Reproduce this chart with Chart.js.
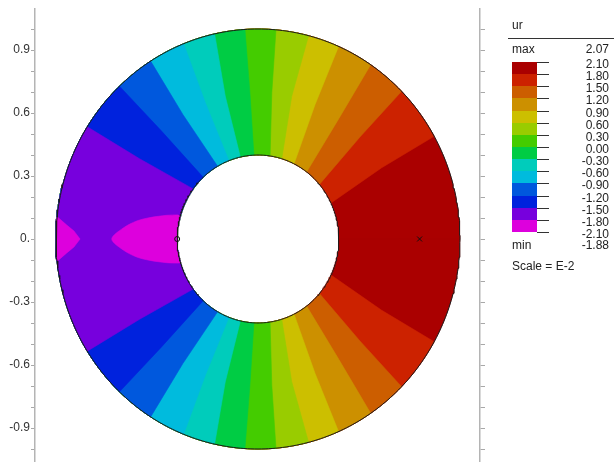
<!DOCTYPE html>
<html>
<head>
<meta charset="utf-8">
<script src="https://cdn.jsdelivr.net/npm/chart.js@4.4.0/dist/chart.umd.min.js"></script>
<style>
    html, body { margin: 0; background: #fff; overflow: hidden; font-family: "Liberation Sans", Arial, sans-serif; }
    #wrap { position: relative; width: 614px; height: 467px; }
    #legend div { position: absolute; font-size: 12px; line-height: 12px; color: #222; white-space: nowrap; }
</style>
</head>
<body>
<div id="wrap">
    <canvas id="ringChart"></canvas>
    <div id="legend"></div>
</div>
<script>
// contour levels (legend, top to bottom) and band colours
const levels = [2.10, 1.80, 1.50, 1.20, 0.90, 0.60, 0.30, 0.00, -0.30, -0.60, -0.90, -1.20, -1.50, -1.80, -2.10];
const levelLabels = ['2.10', '1.80', '1.50', '1.20', '0.90', '0.60', '0.30', '0.00', '-0.30', '-0.60', '-0.90', '-1.20', '-1.50', '-1.80', '-2.10'];
const bandColors = ['#aa0000', '#cc2200', '#cc5e00', '#cc9000', '#ccbf00', '#99cc00', '#44cc00',
                    '#00cc44', '#00ccbb', '#00bbdd', '#0058dd', '#0022dd', '#7700dd', '#dd00dd'];
const valueMax = '2.07';
const valueMin = '-1.88';

// ring
const ringInner = 0.4;
const ringOuter = 1.0;

// contour lines 1.80 ... -1.50, angle (deg) in the upper half at radius 0.4 / 0.7 / 1.0
const boundaryRadii = [0.4, 0.7, 1.0];
const boundaryInner = [25.4, 40.5, 53.0, 63.5, 72.9, 81.4, 92.9, 102.6, 111.1, 120.0, 132.7, 143.4];
const boundaryMid   = [29.0, 43.9, 55.1, 66.2, 76.2, 84.4, 93.3, 103.4, 111.9, 122.1, 132.9, 146.9];
const boundaryOuter = [29.3, 44.7, 56.1, 66.5, 75.5, 84.9, 93.7, 102.4, 111.6, 122.1, 133.3, 147.7];

// -1.80 contour: two closed pockets at the left (upper half, mirrored)
const innerLensR     = [0.411, 0.466, 0.544, 0.607, 0.669, 0.724];
const innerLensTheta = [163.8, 166.0, 169.2, 171.9, 175.5, 180.0];
const outerLensR     = [1.000, 0.949, 0.912, 0.881];
const outerLensTheta = [173.9, 176.0, 177.6, 180.0];

// markers
const markerMax = [{x: 0.8, y: 0}];
const markerMin = [{x: -0.4, y: 0}];

// axis ticks
const yTickValues = [0.9, 0.6, 0.3, 0, -0.3, -0.6, -0.9];
const yTickLabels = ['0.9', '0.6', '0.3', '0.', '-0.3', '-0.6', '-0.9'];

const fontFamily = '"Liberation Sans", Arial, sans-serif';

function toXY(r, deg) {
    let a = deg * Math.PI / 180;
    return {x: r * Math.cos(a), y: r * Math.sin(a)};
}

function arc(r, from, to) {
    let pts = [];
    let n = Math.max(2, Math.ceil(Math.abs(to - from)));
    for (let i = 0; i <= n; i++) {
        pts.push(toXY(r, from + (to - from) * i / n));
    }
    return pts;
}

// everything on the far side of a contour line (towards the left), both halves
function regionBeyond(thetas) {
    let pts = [];
    for (let i = 0; i < boundaryRadii.length; i++) pts.push(toXY(boundaryRadii[i], thetas[i]));
    let first = thetas[0];
    let last = thetas[thetas.length - 1];
    pts = pts.concat(arc(ringOuter, last, 360 - last));
    for (let i = boundaryRadii.length - 1; i >= 0; i--) pts.push(toXY(boundaryRadii[i], 360 - thetas[i]));
    pts = pts.concat(arc(ringInner, 360 - first, first));
    return pts;
}

function lens(rs, ths, ringR) {
    let pts = [];
    for (let i = 0; i < rs.length; i++) pts.push(toXY(rs[i], ths[i]));
    for (let i = rs.length - 2; i >= 0; i--) pts.push(toXY(rs[i], 360 - ths[i]));
    pts = pts.concat(arc(ringR, 360 - ths[0], ths[0]));
    return pts;
}

function fillSet(points, color) {
    return {
        data: points,
        backgroundColor: color,
        borderColor: color,
        borderWidth: 0.6,
        fill: 'shape',
        pointRadius: 0,
        tension: 0
    };
}

document.addEventListener('DOMContentLoaded', function() {
    // bottom to top
    let sets = [];
    sets.push(fillSet(regionBeyond([0, 0, 0]), bandColors[0]));
    for (let k = 0; k < boundaryInner.length; k++) {
        sets.push(fillSet(regionBeyond([boundaryInner[k], boundaryMid[k], boundaryOuter[k]]), bandColors[k + 1]));
    }
    let lensIn = fillSet(lens(innerLensR, innerLensTheta, ringInner), bandColors[13]);
    lensIn.tension = 0.3;
    sets.push(lensIn);
    sets.push(fillSet(lens(outerLensR, outerLensTheta, ringOuter), bandColors[13]));

    sets.push({data: arc(ringOuter, 0, 360), borderColor: '#1a1a1a', borderWidth: 1, fill: false, pointRadius: 0, tension: 0});
    sets.push({data: arc(ringInner, 0, 360), borderColor: '#1a1a1a', borderWidth: 1, fill: false, pointRadius: 0, tension: 0});
    sets.push({data: markerMax, showLine: false, pointStyle: 'crossRot', pointRadius: 3.5, borderColor: '#111', borderWidth: 1});
    sets.push({data: markerMin, showLine: false, pointStyle: 'circle', pointRadius: 2.5, borderColor: '#111',
               backgroundColor: 'rgba(0,0,0,0)', borderWidth: 1});

    for (let i = 0; i < sets.length; i++) sets[i].order = sets.length - i;

    let tickFont = {family: fontFamily, size: 12, lineHeight: 0};

    let chart = new Chart(document.getElementById('ringChart'), {
        type: 'line',
        data: {datasets: sets},
        options: {
            responsive: true,
            maintainAspectRatio: false,
            animation: false,
            layout: {padding: {top: 9, bottom: 0, left: 0, right: 0}},
            plugins: {legend: {display: false}, tooltip: {enabled: false}},
            scales: {
                x: {type: 'linear', min: -1.1, max: 1.1, display: false},
                y: {
                    position: 'left', min: -1.06, max: 1.1,
                    afterFit: function(s) { s.width = 35; },
                    border: {display: true, color: '#b4b4b4', width: 1.5},
                    grid: {drawOnChartArea: false, drawTicks: true, tickLength: 4, color: '#a8a8a8'},
                    ticks: {
                        stepSize: 0.1, includeBounds: false, autoSkip: false, padding: 1,
                        color: '#333', font: tickFont,
                        callback: function(value) {
                            let v = Math.round(value * 10) / 10;
                            let i = yTickValues.findIndex(t => Math.abs(t - v) < 1e-6);
                            return i >= 0 ? yTickLabels[i] : '';
                        }
                    }
                },
                y2: {
                    position: 'right', min: -1.06, max: 1.1,
                    afterFit: function(s) { s.width = 134; },
                    border: {display: true, color: '#b4b4b4', width: 1.5},
                    grid: {drawOnChartArea: false, drawTicks: true, tickLength: 5, color: '#a8a8a8'},
                    ticks: {stepSize: 0.1, includeBounds: false, autoSkip: false, padding: 1, font: tickFont,
                            callback: function() { return ''; }}
                }
            }
        }
    });

    // fit the ranges to the drawn area: centre (258, 239), 202 px per unit across, 210 px per unit down
    let area = chart.chartArea;
    let sc = chart.options.scales;
    sc.x.min = (area.left - 258) / 202;
    sc.x.max = (area.right - 258) / 202;
    sc.y.max = sc.y2.max = (239 - area.top) / 210;
    sc.y.min = sc.y2.min = -(area.bottom - 239) / 210;
    chart.update();

    // legend
    let legend = document.getElementById('legend');
    function addBox(left, top, width, height, color) {
        let d = document.createElement('div');
        d.style.left = left + 'px';
        d.style.top = top + 'px';
        d.style.width = width + 'px';
        d.style.height = height + 'px';
        d.style.background = color;
        legend.appendChild(d);
    }
    function addText(text, top, alignRight) {
        let d = document.createElement('div');
        d.textContent = text;
        d.style.top = top + 'px';
        if (alignRight) d.style.right = '5px';
        else d.style.left = '512px';
        legend.appendChild(d);
    }

    addText('ur', 19, false);
    addBox(508, 38, 106, 1, '#333');
    addText('max', 43, false);
    addText(valueMax, 43, true);

    let barTop = 62, step = 12.14;
    for (let i = 0; i < bandColors.length; i++) {
        let t = Math.round(barTop + step * i);
        let b = Math.round(barTop + step * (i + 1));
        addBox(512, t, 25, b - t, bandColors[i]);
    }
    for (let k = 0; k < levels.length; k++) {
        let y = Math.round(barTop + step * k);
        addBox(537, y, 12, 1, '#333');
        addText(levelLabels[k], y - 4, true);
    }
    addText('min', 239, false);
    addText(valueMin, 239, true);
    addText('Scale = E-2', 260, false);
});
</script>
</body>
</html>
